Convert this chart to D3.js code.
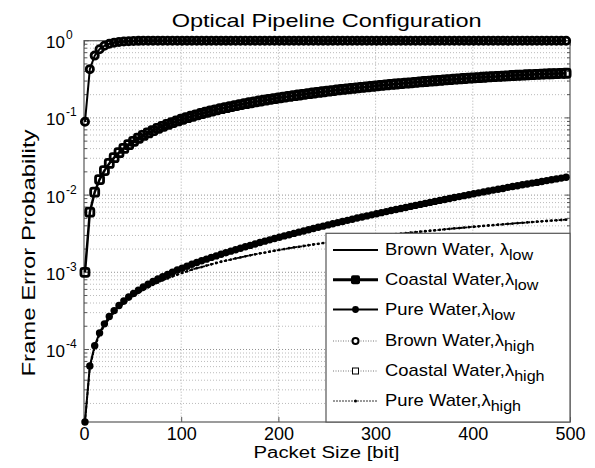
<!DOCTYPE html>
<html>
<head>
<meta charset="utf-8">
<script src="https://cdn.jsdelivr.net/npm/d3@7"></script>
<style>
  body { margin: 0; background: #fff; }
  text { font-family: "Liberation Sans", Arial, sans-serif; fill: #000; }
</style>
</head>
<body>
<div id="chart"></div>
<script>
// Data (frame error probability vs packet size)

var packetSize = [1,6,11,16,21,26,31,36,41,46,51,56,61,66,71,76,81,86,91,96,
  101,106,111,116,121,126,131,136,141,146,151,156,161,166,171,176,181,186,191,196,
  201,206,211,216,221,226,231,236,241,246,251,256,261,266,271,276,281,286,291,296,
  301,306,311,316,321,326,331,336,341,346,351,356,361,366,371,376,381,386,391,396,
  401,406,411,416,421,426,431,436,441,446,451,456,461,466,471,476,481,486,491,496];

var brownLow = [0.089,0.428,0.641,0.775,0.859,0.911,0.944,0.965,0.978,0.986,
  0.991,0.995,0.997,0.998,0.999,1,1,1,1,1,
  1,1,1,1,1,1,1,1,1,1,1,1,1,1,1,1,1,1,1,1,
  1,1,1,1,1,1,1,1,1,1,1,1,1,1,1,1,1,1,1,1,
  1,1,1,1,1,1,1,1,1,1,1,1,1,1,1,1,1,1,1,1,
  1,1,1,1,1,1,1,1,1,1,1,1,1,1,1,1,1,1,1,1];

var coastalLow = [0.0010,0.0060,0.0109,0.0159,0.0208,0.0257,0.0305,0.0354,0.0402,0.0450,
  0.0497,0.0545,0.0592,0.0639,0.0686,0.0732,0.0778,0.0824,0.0870,0.0915,
  0.0961,0.1006,0.1051,0.1095,0.1140,0.1184,0.1228,0.1272,0.1315,0.1358,
  0.1401,0.1444,0.1487,0.1529,0.1571,0.1613,0.1655,0.1697,0.1738,0.1779,
  0.182,0.186,0.190,0.194,0.198,0.202,0.206,0.210,0.214,0.218,
  0.222,0.226,0.230,0.234,0.237,0.241,0.245,0.249,0.252,0.256,
  0.260,0.264,0.267,0.271,0.275,0.278,0.282,0.285,0.289,0.292,
  0.296,0.300,0.303,0.306,0.310,0.313,0.317,0.320,0.324,0.327,
  0.330,0.333,0.336,0.339,0.342,0.345,0.348,0.351,0.354,0.357,
  0.359,0.362,0.364,0.367,0.369,0.371,0.373,0.375,0.377,0.379];

var pureLow = [1.15e-5,6.12e-5,1.12e-4,1.64e-4,2.15e-4,2.67e-4,3.19e-4,3.72e-4,4.25e-4,4.79e-4,
  5.33e-4,5.88e-4,6.44e-4,7.01e-4,7.59e-4,8.18e-4,8.78e-4,9.39e-4,1.00e-3,1.07e-3,
  1.13e-3,1.20e-3,1.27e-3,1.34e-3,1.41e-3,1.48e-3,1.56e-3,1.63e-3,1.71e-3,1.79e-3,
  1.88e-3,1.96e-3,2.05e-3,2.14e-3,2.23e-3,2.33e-3,2.43e-3,2.53e-3,2.63e-3,2.74e-3,
  2.84e-3,2.96e-3,3.07e-3,3.19e-3,3.31e-3,3.43e-3,3.56e-3,3.69e-3,3.83e-3,3.96e-3,
  4.11e-3,4.25e-3,4.40e-3,4.55e-3,4.71e-3,4.87e-3,5.04e-3,5.20e-3,5.38e-3,5.55e-3,
  5.74e-3,5.92e-3,6.11e-3,6.31e-3,6.51e-3,6.71e-3,6.92e-3,7.14e-3,7.35e-3,7.58e-3,
  7.81e-3,8.04e-3,8.28e-3,8.53e-3,8.78e-3,9.03e-3,9.29e-3,9.56e-3,9.83e-3,1.01e-2,
  1.04e-2,1.07e-2,1.10e-2,1.13e-2,1.16e-2,1.19e-2,1.22e-2,1.26e-2,1.29e-2,1.32e-2,
  1.36e-2,1.39e-2,1.43e-2,1.46e-2,1.50e-2,1.54e-2,1.58e-2,1.62e-2,1.66e-2,1.70e-2];

// high wavelength curves lie on top of the low ones for brown and coastal water
var brownHigh = brownLow;
var coastalHigh = coastalLow;

var pureHigh = [1.15e-5,5.82e-5,1.07e-4,1.55e-4,2.04e-4,2.52e-4,3.01e-4,3.49e-4,3.98e-4,4.46e-4,
  4.95e-4,5.43e-4,5.92e-4,6.40e-4,6.89e-4,7.37e-4,7.86e-4,8.34e-4,8.83e-4,9.31e-4,
  9.80e-4,1.03e-3,1.08e-3,1.13e-3,1.17e-3,1.22e-3,1.27e-3,1.32e-3,1.37e-3,1.42e-3,
  1.46e-3,1.51e-3,1.56e-3,1.61e-3,1.66e-3,1.71e-3,1.76e-3,1.80e-3,1.85e-3,1.90e-3,
  1.95e-3,2.00e-3,2.05e-3,2.10e-3,2.14e-3,2.19e-3,2.24e-3,2.29e-3,2.34e-3,2.39e-3,
  2.43e-3,2.48e-3,2.53e-3,2.58e-3,2.63e-3,2.68e-3,2.73e-3,2.77e-3,2.82e-3,2.87e-3,
  2.92e-3,2.97e-3,3.02e-3,3.07e-3,3.11e-3,3.16e-3,3.21e-3,3.26e-3,3.31e-3,3.36e-3,
  3.40e-3,3.45e-3,3.50e-3,3.55e-3,3.60e-3,3.65e-3,3.70e-3,3.74e-3,3.79e-3,3.84e-3,
  3.89e-3,3.94e-3,3.99e-3,4.04e-3,4.08e-3,4.13e-3,4.18e-3,4.23e-3,4.28e-3,4.33e-3,
  4.37e-3,4.42e-3,4.47e-3,4.52e-3,4.57e-3,4.62e-3,4.67e-3,4.71e-3,4.76e-3,4.81e-3];

var xTicks = [0, 100, 200, 300, 400, 500];
var yTickExp = [0, -1, -2, -3, -4];

var legendNames = ["Brown Water, ", "Coastal Water,", "Pure Water,",
                   "Brown Water,", "Coastal Water,", "Pure Water,"];
var legendSubs = ["low", "low", "low", "high", "high", "high"];

// Layout
var width = 595;
var height = 468;
var mLeft = 84, mRight = 570, mTop = 40.7, mBottom = 422;

var svg = d3.select("#chart")
    .append("svg")
    .attr("width", width)
    .attr("height", height);

var x = d3.scaleLinear().domain([0, 500]).range([mLeft, mRight]);
var y = d3.scaleLog().domain([1.15e-5, 1]).range([mBottom, mTop]);

// grid
var gridG = svg.append("g").attr("class", "grid");

var yGrid = y.ticks().filter(function(v) { return v >= 1.15e-5 && v <= 1; });
function isDecade(v) { return Math.abs(Math.log10(v) - Math.round(Math.log10(v))) < 1e-6; }

gridG.selectAll("line.hg")
    .data(yGrid)
    .enter()
    .append("line")
    .attr("class", "hg")
    .attr("x1", mLeft)
    .attr("x2", mRight)
    .attr("y1", function(d) { return y(d); })
    .attr("y2", function(d) { return y(d); })
    .attr("stroke", function(d) { return isDecade(d) ? "#777" : "#aaa"; })
    .attr("stroke-width", 0.8)
    .attr("stroke-dasharray", "1,2");

gridG.selectAll("line.vg")
    .data(xTicks.slice(1, 5))
    .enter()
    .append("line")
    .attr("class", "vg")
    .attr("x1", function(d) { return x(d); })
    .attr("x2", function(d) { return x(d); })
    .attr("y1", mTop)
    .attr("y2", mBottom)
    .attr("stroke", "#999")
    .attr("stroke-width", 0.8)
    .attr("stroke-dasharray", "1,2");

// axis box
svg.append("rect")
    .attr("x", mLeft)
    .attr("y", mTop)
    .attr("width", mRight - mLeft)
    .attr("height", mBottom - mTop)
    .attr("fill", "none")
    .attr("stroke", "#666")
    .attr("stroke-width", 1.3);

// x axis (ticks point inward)
var xAxis = svg.append("g")
    .attr("transform", "translate(0," + mBottom + ")")
    .call(d3.axisBottom(x).tickValues(xTicks).tickSizeInner(-5).tickSizeOuter(0));
xAxis.select(".domain").remove();
xAxis.selectAll("line").attr("stroke", "#555");
xAxis.selectAll("text")
    .attr("y", 18)
    .attr("dy", null)
    .attr("font-size", 18)
    .attr("font-family", "Liberation Sans, Arial, sans-serif")
    .attr("fill", "#000");

var xAxisTop = svg.append("g")
    .attr("transform", "translate(0," + mTop + ")")
    .call(d3.axisTop(x).tickValues(xTicks).tickSizeInner(-5).tickSizeOuter(0).tickFormat(""));
xAxisTop.select(".domain").remove();
xAxisTop.selectAll("line").attr("stroke", "#555");

// y ticks on both sides, all minor ticks too
[mLeft, mRight].forEach(function(px) {
    var dir = px === mLeft ? 1 : -1;
    svg.append("g")
        .selectAll("line")
        .data(yGrid)
        .enter()
        .append("line")
        .attr("x1", px)
        .attr("x2", function(d) { return px + dir * (isDecade(d) ? 5 : 3); })
        .attr("y1", function(d) { return y(d); })
        .attr("y2", function(d) { return y(d); })
        .attr("stroke", "#555")
        .attr("stroke-width", 1);
});

// y tick labels 10^n
svg.append("g").selectAll("text")
    .data(yTickExp)
    .enter()
    .append("text")
    .attr("x", 65)
    .attr("y", function(d) { return y(Math.pow(10, d)) + 7.5; })
    .attr("text-anchor", "end")
    .attr("font-size", 17)
    .text("10");

svg.append("g").selectAll("text")
    .data(yTickExp)
    .enter()
    .append("text")
    .attr("x", 66)
    .attr("y", function(d) { return y(Math.pow(10, d)) - 1.5; })
    .attr("font-size", 12)
    .text(function(d) { return d === 0 ? "0" : "-" + (-d); });

// titles
svg.append("text")
    .attr("x", 326.7)
    .attr("y", 27)
    .attr("text-anchor", "middle")
    .attr("font-size", 18.5)
    .attr("textLength", 310)
    .attr("lengthAdjust", "spacingAndGlyphs")
    .text("Optical Pipeline Configuration");

svg.append("text")
    .attr("x", 326.5)
    .attr("y", 458)
    .attr("text-anchor", "middle")
    .attr("font-size", 16)
    .attr("textLength", 146)
    .attr("lengthAdjust", "spacingAndGlyphs")
    .text("Packet Size [bit]");

svg.append("text")
    .attr("transform", "translate(35,253) rotate(-90)")
    .attr("text-anchor", "middle")
    .attr("font-size", 18.5)
    .attr("textLength", 247)
    .attr("lengthAdjust", "spacingAndGlyphs")
    .text("Frame Error Probability");

// series
function line(vals) {
    return d3.line()
        .x(function(d, i) { return x(packetSize[i]); })
        .y(function(d) { return y(d); })(vals);
}

var plot = svg.append("g").attr("class", "series");

// pure water, high
plot.append("path")
    .attr("d", line(pureHigh))
    .attr("fill", "none")
    .attr("stroke", "#000")
    .attr("stroke-width", 1.8)
    .attr("stroke-dasharray", "3,1.5");
plot.append("g").selectAll("circle")
    .data(pureHigh)
    .enter()
    .append("circle")
    .attr("cx", function(d, i) { return x(packetSize[i]); })
    .attr("cy", function(d) { return y(d); })
    .attr("r", 1.4)
    .attr("fill", "#000");

// pure water, low
plot.append("path")
    .attr("d", line(pureLow))
    .attr("fill", "none")
    .attr("stroke", "#000")
    .attr("stroke-width", 2);
plot.append("g").selectAll("circle")
    .data(pureLow)
    .enter()
    .append("circle")
    .attr("cx", function(d, i) { return x(packetSize[i]); })
    .attr("cy", function(d) { return y(d); })
    .attr("r", 3.7)
    .attr("fill", "#000");

// coastal water
plot.append("path")
    .attr("d", line(coastalLow))
    .attr("fill", "none")
    .attr("stroke", "#000")
    .attr("stroke-width", 2.5);
plot.append("g").selectAll("rect")
    .data(coastalHigh)
    .enter()
    .append("rect")
    .attr("x", function(d, i) { return x(packetSize[i]) - 4; })
    .attr("y", function(d) { return y(d) - 4; })
    .attr("width", 8)
    .attr("height", 8)
    .attr("rx", 2)
    .attr("fill", "none")
    .attr("stroke", "#000")
    .attr("stroke-width", 2.8);

// brown water
plot.append("path")
    .attr("d", line(brownLow))
    .attr("fill", "none")
    .attr("stroke", "#000")
    .attr("stroke-width", 2);
plot.append("g").selectAll("circle")
    .data(brownHigh)
    .enter()
    .append("circle")
    .attr("cx", function(d, i) { return x(packetSize[i]); })
    .attr("cy", function(d) { return y(d); })
    .attr("r", 3.6)
    .attr("fill", "none")
    .attr("stroke", "#000")
    .attr("stroke-width", 2.8);

// legend
var lg = svg.append("g").attr("class", "legend");
lg.append("rect")
    .attr("x", 326)
    .attr("y", 233.3)
    .attr("width", mRight - 326)
    .attr("height", mBottom - 233.3)
    .attr("fill", "#fff")
    .attr("stroke", "#555")
    .attr("stroke-width", 1.2);

var rowY = [250, 279.7, 309.5, 341, 371, 401];

legendNames.forEach(function(name, i) {
    var ry = rowY[i];
    var high = i >= 3;
    lg.append("line")
        .attr("x1", 333).attr("x2", 378)
        .attr("y1", ry).attr("y2", ry)
        .attr("stroke", high ? (i === 5 ? "#333" : "#777") : "#000")
        .attr("stroke-width", i === 1 ? 3 : (high ? 1 : 2))
        .attr("stroke-dasharray", high ? (i === 5 ? "2,1" : "1,1.5") : null);
    if (i === 1) {
        lg.append("rect").attr("x", 351).attr("y", ry - 4.5).attr("width", 9).attr("height", 9)
            .attr("rx", 2).attr("fill", "#000");
    } else if (i === 2) {
        lg.append("circle").attr("cx", 355.5).attr("cy", ry).attr("r", 3.4).attr("fill", "#000");
    } else if (i === 3) {
        lg.append("circle").attr("cx", 355.5).attr("cy", ry).attr("r", 3).attr("fill", "#fff")
            .attr("stroke", "#000").attr("stroke-width", 2);
    } else if (i === 4) {
        lg.append("rect").attr("x", 352.5).attr("y", ry - 3).attr("width", 6).attr("height", 6)
            .attr("fill", "#fff").attr("stroke", "#000").attr("stroke-width", 1);
    } else if (i === 5) {
        lg.append("circle").attr("cx", 355.5).attr("cy", ry).attr("r", 1.5).attr("fill", "#000");
    }

    var t = lg.append("text")
        .attr("transform", "translate(385," + (ry + 5) + ") scale(1.15,1)")
        .attr("font-size", 16);
    t.append("tspan").text(name);
    t.append("tspan").text("\u03bb");
    t.append("tspan")
        .attr("dy", 5)
        .attr("font-size", 14)
        .text(legendSubs[i]);
});
</script>
</body>
</html>
